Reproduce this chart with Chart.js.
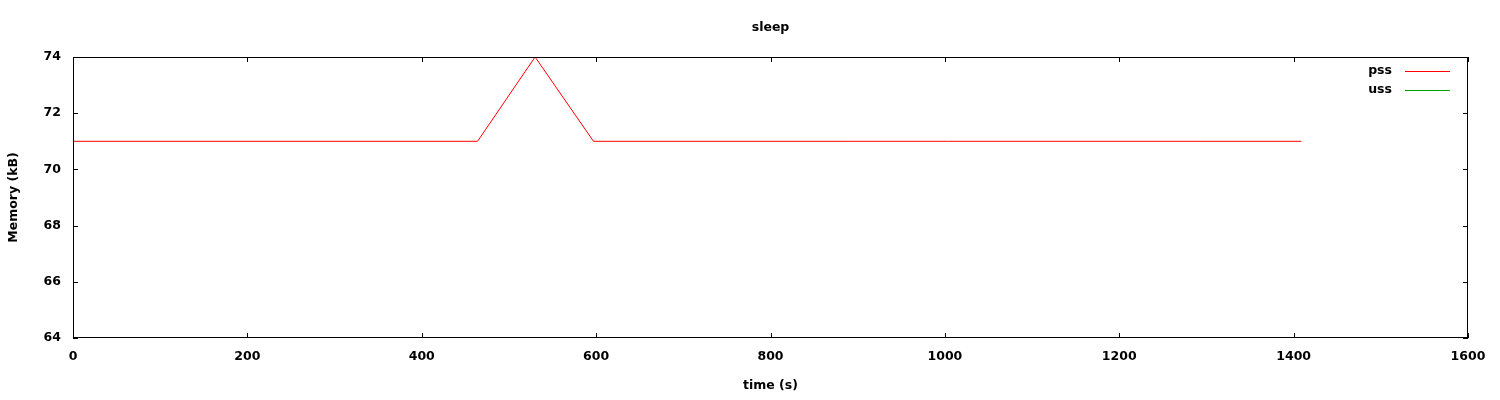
<!DOCTYPE html>
<html>
<head>
<meta charset="utf-8">
<script src="https://cdn.jsdelivr.net/npm/chart.js@4"></script>
<style>
  html, body { margin: 0; padding: 0; background: #fff; }
  #wrap { width: 1500px; height: 400px; }
</style>
</head>
<body>
<div id="wrap"><canvas id="chart" width="1500" height="400"></canvas></div>
<script>
// data
const pssTime = [0, 464, 530, 597, 1409];
const pssMem = [71, 71, 74, 71, 71];
const ussTime = [];
const ussMem = [];
const xTicks = [0, 200, 400, 600, 800, 1000, 1200, 1400, 1600];
const yTicks = [64, 66, 68, 70, 72, 74];
const chartTitle = 'sleep';
const seriesColors = ['#ff0000', '#00a000'];

const FONT = 'DejaVu Sans';
const FSIZE = 12.5;
const FWEIGHT = 'bold';

const toPoints = (xs, ys) => xs.map((x, i) => ({ x: x, y: ys[i] }));

// gnuplot style frame: border box, inward ticks mirrored on all sides, legend top right
const framePlugin = {
  id: 'frame',
  afterDatasetsDraw(chart) {
    const ctx = chart.ctx;
    const a = chart.chartArea;
    const xs = chart.scales.x, ys = chart.scales.y;
    ctx.save();
    ctx.strokeStyle = '#000';
    ctx.lineWidth = 1;
    ctx.strokeRect(Math.round(a.left) + 0.5, Math.round(a.top) + 0.5,
      Math.round(a.right - a.left) - 1, Math.round(a.bottom - a.top) - 1);
    ctx.beginPath();
    xTicks.forEach(v => {
      const px = Math.round(xs.getPixelForValue(v)) + 0.5;
      ctx.moveTo(px, a.bottom); ctx.lineTo(px, a.bottom - 5);
      ctx.moveTo(px, a.top); ctx.lineTo(px, a.top + 5);
    });
    yTicks.forEach(v => {
      const py = Math.round(ys.getPixelForValue(v)) + 0.5;
      ctx.moveTo(a.left, py); ctx.lineTo(a.left + 5, py);
      ctx.moveTo(a.right, py); ctx.lineTo(a.right - 5, py);
    });
    ctx.stroke();

    ctx.font = FWEIGHT + ' ' + FSIZE + 'px "' + FONT + '"';
    ctx.fillStyle = '#000';
    ctx.textBaseline = 'middle';

    // title centred over the plot area
    ctx.textAlign = 'center';
    ctx.fillText(chartTitle, (a.left + a.right) / 2, 28);

    // legend
    ctx.textAlign = 'right';
    chart.data.datasets.forEach((ds, i) => {
      const y = Math.round(a.top + 14 + i * 19);
      ctx.fillStyle = '#000';
      ctx.fillText(ds.label, a.right - 76, y);
      ctx.fillStyle = seriesColors[i];
      ctx.fillRect(Math.round(a.right - 63), y, 45, 1);
    });
    ctx.restore();
  }
};

const tickFont = { family: FONT, size: FSIZE, weight: FWEIGHT };

const ctx = document.getElementById('chart').getContext('2d');
new Chart(ctx, {
  type: 'scatter',
  data: {
    datasets: [
      {
        label: 'pss',
        data: toPoints(pssTime, pssMem),
        showLine: true,
        borderColor: seriesColors[0],
        borderWidth: 1,
        pointRadius: 0,
        tension: 0
      },
      {
        label: 'uss',
        data: toPoints(ussTime, ussMem),
        showLine: true,
        borderColor: seriesColors[1],
        borderWidth: 1,
        pointRadius: 0,
        tension: 0
      }
    ]
  },
  options: {
    responsive: false,
    animation: false,
    layout: { padding: { left: 0, right: 32, top: 57, bottom: 0 } },
    plugins: {
      legend: { display: false },
      tooltip: { enabled: false },
      title: { display: false }
    },
    scales: {
      x: {
        type: 'linear',
        min: 0,
        max: 1600,
        afterFit(scale) { scale.height = 62; },
        afterBuildTicks(scale) { scale.ticks = xTicks.map(v => ({ value: v })); },
        grid: { display: false, drawTicks: false },
        border: { display: false },
        ticks: {
          color: '#000',
          padding: 11,
          maxRotation: 0,
          font: tickFont,
          callback: v => String(v)
        },
        title: {
          display: true,
          text: 'time (s)',
          color: '#000',
          font: tickFont,
          padding: { top: 14, bottom: 7 }
        }
      },
      y: {
        min: 64,
        max: 74,
        afterFit(scale) { scale.width = 73; },
        afterBuildTicks(scale) { scale.ticks = yTicks.map(v => ({ value: v })); },
        grid: { display: false, drawTicks: false },
        border: { display: false },
        ticks: {
          color: '#000',
          padding: 12,
          font: tickFont,
          callback: v => String(v)
        },
        title: {
          display: true,
          text: 'Memory (kB)',
          color: '#000',
          font: tickFont,
          padding: { top: 6, bottom: 0 }
        }
      }
    }
  },
  plugins: [framePlugin]
});
</script>
</body>
</html>
